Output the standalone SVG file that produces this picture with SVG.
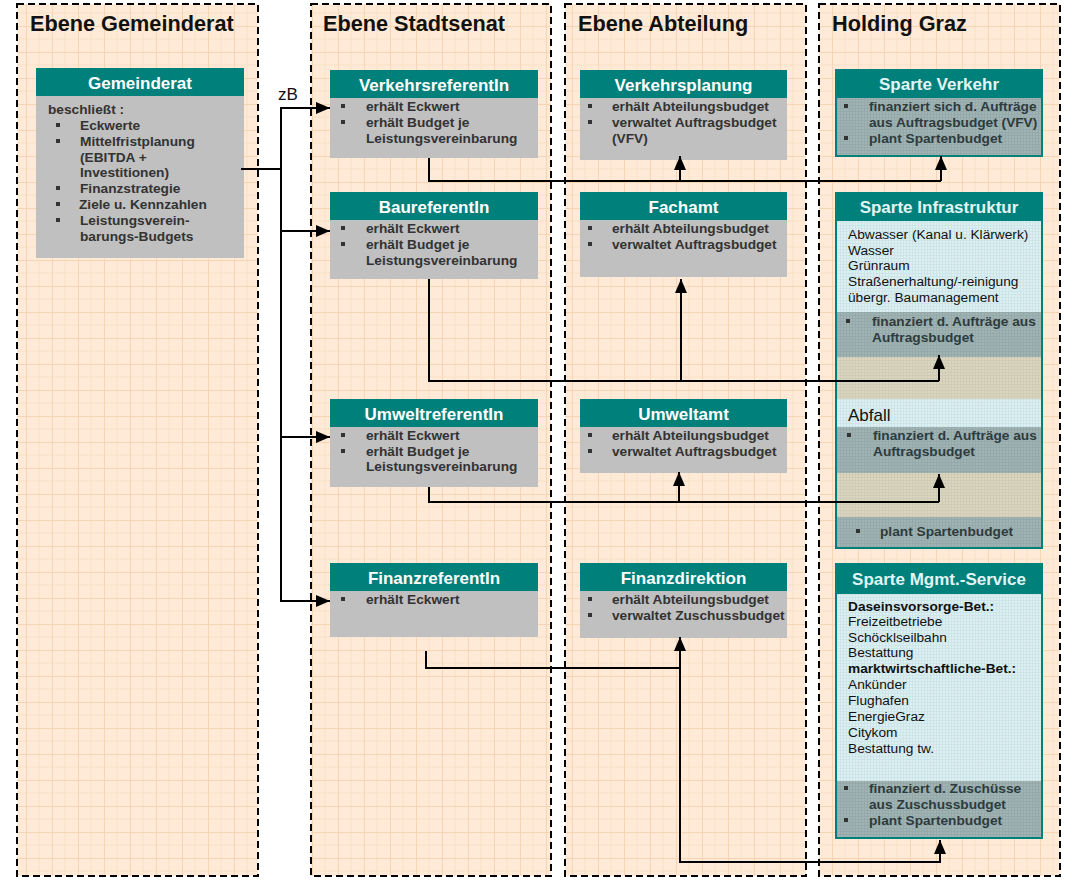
<svg xmlns="http://www.w3.org/2000/svg" width="1078" height="885" viewBox="0 0 1078 885">
<style>
.col{fill:url(#grid);stroke:#000;stroke-width:2;stroke-dasharray:7 4}
.colt{font:bold 21.7px "Liberation Sans",Arial,sans-serif;fill:#111}
.hd{fill:#00807A}
.hdt{font:bold 17px "Liberation Sans",Arial,sans-serif;fill:#fff;text-anchor:middle}
.hdt2{font:bold 17px "Liberation Sans",Arial,sans-serif;fill:#E2F5F5;text-anchor:middle}
.bd{fill:#C0C0C0}
.bt{font:bold 13.7px "Liberation Sans",Arial,sans-serif;fill:#333}
.bt2{font:bold 13.7px "Liberation Sans",Arial,sans-serif;fill:#2E3B3E}
.nt{font:13.7px "Liberation Sans",Arial,sans-serif;fill:#111}
.nb{font:bold 13.7px "Liberation Sans",Arial,sans-serif;fill:#111}
.bul{fill:#333}
.frame{fill:none;stroke:#00807A;stroke-width:2}
.conn{stroke:#000;stroke-width:2;fill:none}
</style>
<defs>
<pattern id="grid" width="26" height="26" patternUnits="userSpaceOnUse">
<rect width="26" height="26" fill="#FEEAD6"/>
<path d="M13 0V26M0 13H26" stroke="#FBE0C6" stroke-width="1"/>
<path d="M0.5 0V26M0 0.5H26" stroke="#F6D5B4" stroke-width="1"/>
</pattern>
<pattern id="pd" width="3" height="3" patternUnits="userSpaceOnUse">
<rect width="3" height="3" fill="#A1B4B4"/>
<path d="M0 0.5H3M0.5 0V3" stroke="#95A9AA" stroke-width="1"/>
</pattern>
<pattern id="pl" width="3" height="3" patternUnits="userSpaceOnUse">
<rect width="3" height="3" fill="#DCF0F2"/>
<path d="M0 0.5H3M0.5 0V3" stroke="#CDE5E8" stroke-width="1"/>
</pattern>
<pattern id="pt" width="3" height="3" patternUnits="userSpaceOnUse">
<rect width="3" height="3" fill="#DAD6C0"/>
<path d="M0 0.5H3M0.5 0V3" stroke="#CFCBB5" stroke-width="1"/>
</pattern>
<marker id="ah" markerUnits="userSpaceOnUse" markerWidth="14" markerHeight="12" refX="14" refY="6" orient="auto" viewBox="0 0 14 12">
<path d="M0 0L14 6L0 12z" fill="#000"/>
</marker>
</defs>

<rect width="1078" height="885" fill="#fff"/>

<g id="columns">
<rect class="col" x="17" y="4" width="241" height="872"/>
<rect class="col" x="311" y="4" width="240" height="872"/>
<rect class="col" x="565" y="4" width="241" height="872"/>
<rect class="col" x="819" y="4" width="241" height="872"/>
<text class="colt" x="30" y="31">Ebene Gemeinderat</text>
<text class="colt" x="323" y="31">Ebene Stadtsenat</text>
<text class="colt" x="578" y="31">Ebene Abteilung</text>
<text class="colt" x="832" y="31">Holding Graz</text>
</g>

<g id="gemeinderat">
<rect class="hd" x="36" y="68" width="208" height="28"/>
<text class="hdt" x="140" y="89">Gemeinderat</text>
<rect class="bd" x="36" y="96" width="208" height="162"/>
<text class="bt" x="48" y="114">beschließt :</text>
<rect class="bul" x="56" y="123" width="4" height="4"/>
<text class="bt" x="80" y="130">Eckwerte</text>
<rect class="bul" x="56" y="139" width="4" height="4"/>
<text class="bt" x="80" y="146">Mittelfristplanung</text>
<text class="bt" x="80" y="162">(EBITDA +</text>
<text class="bt" x="80" y="177">Investitionen)</text>
<rect class="bul" x="56" y="186" width="4" height="4"/>
<text class="bt" x="80" y="193">Finanzstrategie</text>
<rect class="bul" x="56" y="202" width="4" height="4"/>
<text class="bt" x="79" y="209">Ziele u. Kennzahlen</text>
<rect class="bul" x="56" y="218" width="4" height="4"/>
<text class="bt" x="80" y="225">Leistungsverein-</text>
<text class="bt" x="80" y="241">barungs-Budgets</text>
</g>

<g id="verkehrsreferentin">
<rect class="hd" x="330" y="70" width="208" height="28"/>
<text class="hdt" x="434" y="91">VerkehrsreferentIn</text>
<rect class="bd" x="330" y="98" width="208" height="60"/>
<rect class="bul" x="341" y="104" width="4" height="4"/>
<text class="bt" x="366" y="111">erhält Eckwert</text>
<rect class="bul" x="341" y="120" width="4" height="4"/>
<text class="bt" x="366" y="127">erhält Budget je</text>
<text class="bt" x="366" y="143">Leistungsvereinbarung</text>
</g>

<g id="baureferentin">
<rect class="hd" x="330" y="192" width="208" height="28"/>
<text class="hdt" x="434" y="213">BaureferentIn</text>
<rect class="bd" x="330" y="220" width="208" height="59"/>
<rect class="bul" x="341" y="226" width="4" height="4"/>
<text class="bt" x="366" y="233">erhält Eckwert</text>
<rect class="bul" x="341" y="242" width="4" height="4"/>
<text class="bt" x="366" y="249">erhält Budget je</text>
<text class="bt" x="366" y="265">Leistungsvereinbarung</text>
</g>

<g id="umweltreferentin">
<rect class="hd" x="330" y="399" width="208" height="28"/>
<text class="hdt" x="434" y="420">UmweltreferentIn</text>
<rect class="bd" x="330" y="427" width="208" height="60"/>
<rect class="bul" x="341" y="433" width="4" height="4"/>
<text class="bt" x="366" y="440">erhält Eckwert</text>
<rect class="bul" x="341" y="449" width="4" height="4"/>
<text class="bt" x="366" y="456">erhält Budget je</text>
<text class="bt" x="366" y="471">Leistungsvereinbarung</text>
</g>

<g id="finanzreferentin">
<rect class="hd" x="330" y="563" width="208" height="28"/>
<text class="hdt" x="434" y="584">FinanzreferentIn</text>
<rect class="bd" x="330" y="591" width="208" height="46"/>
<rect class="bul" x="341" y="597" width="4" height="4"/>
<text class="bt" x="366" y="604">erhält Eckwert</text>
</g>

<g id="verkehrsplanung">
<rect class="hd" x="580" y="70" width="207" height="28"/>
<text class="hdt" x="683.5" y="91">Verkehrsplanung</text>
<rect class="bd" x="580" y="98" width="207" height="62"/>
<rect class="bul" x="588" y="104" width="4" height="4"/>
<text class="bt" x="612" y="111">erhält Abteilungsbudget</text>
<rect class="bul" x="588" y="120" width="4" height="4"/>
<text class="bt" x="612" y="127">verwaltet Auftragsbudget</text>
<text class="bt" x="612" y="143">(VFV)</text>
</g>

<g id="fachamt">
<rect class="hd" x="580" y="192" width="207" height="28"/>
<text class="hdt" x="683.5" y="213">Fachamt</text>
<rect class="bd" x="580" y="220" width="207" height="57"/>
<rect class="bul" x="588" y="226" width="4" height="4"/>
<text class="bt" x="612" y="233">erhält Abteilungsbudget</text>
<rect class="bul" x="588" y="242" width="4" height="4"/>
<text class="bt" x="612" y="249">verwaltet Auftragsbudget</text>
</g>

<g id="umweltamt">
<rect class="hd" x="580" y="399" width="207" height="28"/>
<text class="hdt" x="683.5" y="420">Umweltamt</text>
<rect class="bd" x="580" y="427" width="207" height="46"/>
<rect class="bul" x="588" y="433" width="4" height="4"/>
<text class="bt" x="612" y="440">erhält Abteilungsbudget</text>
<rect class="bul" x="588" y="449" width="4" height="4"/>
<text class="bt" x="612" y="456">verwaltet Auftragsbudget</text>
</g>

<g id="finanzdirektion">
<rect class="hd" x="580" y="563" width="207" height="28"/>
<text class="hdt" x="683.5" y="584">Finanzdirektion</text>
<rect class="bd" x="580" y="591" width="207" height="47"/>
<rect class="bul" x="588" y="597" width="4" height="4"/>
<text class="bt" x="612" y="604">erhält Abteilungsbudget</text>
<rect class="bul" x="588" y="613" width="4" height="4"/>
<text class="bt" x="612" y="620">verwaltet Zuschussbudget</text>
</g>

<g id="sparte-verkehr">
<rect class="hd" x="835" y="69" width="208" height="28"/>
<text class="hdt2" x="939" y="90">Sparte Verkehr</text>
<rect x="836" y="97" width="206" height="59" fill="url(#pd)"/>
<rect class="frame" x="836" y="97" width="206" height="59"/>
<rect class="bul" x="844" y="104" width="4" height="4"/>
<text class="bt2" x="869" y="111">finanziert sich d. Aufträge</text>
<text class="bt2" x="869" y="127">aus Auftragsbudget (VFV)</text>
<rect class="bul" x="844" y="136" width="4" height="4"/>
<text class="bt2" x="869" y="143">plant Spartenbudget</text>
</g>

<g id="sparte-infrastruktur">
<rect class="hd" x="835" y="192" width="208" height="28"/>
<text class="hdt2" x="939" y="213">Sparte Infrastruktur</text>
<rect x="836" y="220" width="206" height="92" fill="url(#pl)"/>
<rect x="836" y="312" width="206" height="45" fill="url(#pd)"/>
<rect x="836" y="357" width="206" height="42" fill="url(#pt)"/>
<rect x="836" y="399" width="206" height="28" fill="url(#pl)"/>
<rect x="836" y="427" width="206" height="46" fill="url(#pd)"/>
<rect x="836" y="473" width="206" height="44" fill="url(#pt)"/>
<rect x="836" y="517" width="206" height="31" fill="url(#pd)"/>
<rect class="frame" x="836" y="220" width="206" height="328"/>
<text class="nt" x="848" y="239">Abwasser (Kanal u. Klärwerk)</text>
<text class="nt" x="848" y="255">Wasser</text>
<text class="nt" x="848" y="270">Grünraum</text>
<text class="nt" x="848" y="286">Straßenerhaltung/-reinigung</text>
<text class="nt" x="848" y="302">übergr. Baumanagement</text>
<rect class="bul" x="846" y="319" width="4" height="4"/>
<text class="bt2" x="872" y="326">finanziert d. Aufträge aus</text>
<text class="bt2" x="872" y="342">Auftragsbudget</text>
<text x="848" y="421" style="font:17px 'Liberation Sans',Arial,sans-serif;fill:#111">Abfall</text>
<rect class="bul" x="847" y="433" width="4" height="4"/>
<text class="bt2" x="873" y="440">finanziert d. Aufträge aus</text>
<text class="bt2" x="873" y="456">Auftragsbudget</text>
<rect class="bul" x="856" y="529" width="4" height="4"/>
<text class="bt2" x="880" y="536">plant Spartenbudget</text>
</g>

<g id="sparte-mgmt-service">
<rect class="hd" x="835" y="563" width="208" height="30"/>
<text class="hdt2" x="939" y="585">Sparte Mgmt.-Service</text>
<rect x="836" y="593" width="206" height="188" fill="url(#pl)"/>
<rect x="836" y="781" width="206" height="57" fill="url(#pd)"/>
<rect class="frame" x="836" y="593" width="206" height="245"/>
<text class="nb" x="848" y="611">Daseinsvorsorge-Bet.:</text>
<text class="nt" x="848" y="626">Freizeitbetriebe</text>
<text class="nt" x="848" y="642">Schöcklseilbahn</text>
<text class="nt" x="848" y="657">Bestattung</text>
<text class="nb" x="848" y="673">marktwirtschaftliche-Bet.:</text>
<text class="nt" x="848" y="689">Ankünder</text>
<text class="nt" x="848" y="705">Flughafen</text>
<text class="nt" x="848" y="721">EnergieGraz</text>
<text class="nt" x="848" y="737">Citykom</text>
<text class="nt" x="848" y="753">Bestattung tw.</text>
<rect class="bul" x="844" y="786" width="4" height="4"/>
<text class="bt2" x="869" y="793">finanziert d. Zuschüsse</text>
<text class="bt2" x="869" y="809">aus Zuschussbudget</text>
<rect class="bul" x="844" y="818" width="4" height="4"/>
<text class="bt2" x="869" y="825">plant Spartenbudget</text>
</g>

<g id="connectors">
<text x="278" y="100" style="font:17px 'Liberation Sans',Arial,sans-serif;fill:#111">zB</text>
<path class="conn" d="M241 169H281"/>
<path class="conn" d="M281 107V602"/>
<path class="conn" d="M280 108H330" marker-end="url(#ah)"/>
<path class="conn" d="M280 231H330" marker-end="url(#ah)"/>
<path class="conn" d="M280 437H330" marker-end="url(#ah)"/>
<path class="conn" d="M280 601H330" marker-end="url(#ah)"/>

<path class="conn" d="M429 158V181H941"/>
<path class="conn" d="M680 181V156" marker-end="url(#ah)"/>
<path class="conn" d="M941 181V156" marker-end="url(#ah)"/>

<path class="conn" d="M429 279V381H939"/>
<path class="conn" d="M681 381V279" marker-end="url(#ah)"/>
<path class="conn" d="M939 381V355" marker-end="url(#ah)"/>

<path class="conn" d="M429 487V502H939"/>
<path class="conn" d="M679 502V472" marker-end="url(#ah)"/>
<path class="conn" d="M939 502V474" marker-end="url(#ah)"/>

<path class="conn" d="M426 651V668H680"/>
<path class="conn" d="M680 862V637" marker-end="url(#ah)"/>
<path class="conn" d="M679 862H940V840" marker-end="url(#ah)"/>
</g>
</svg>
